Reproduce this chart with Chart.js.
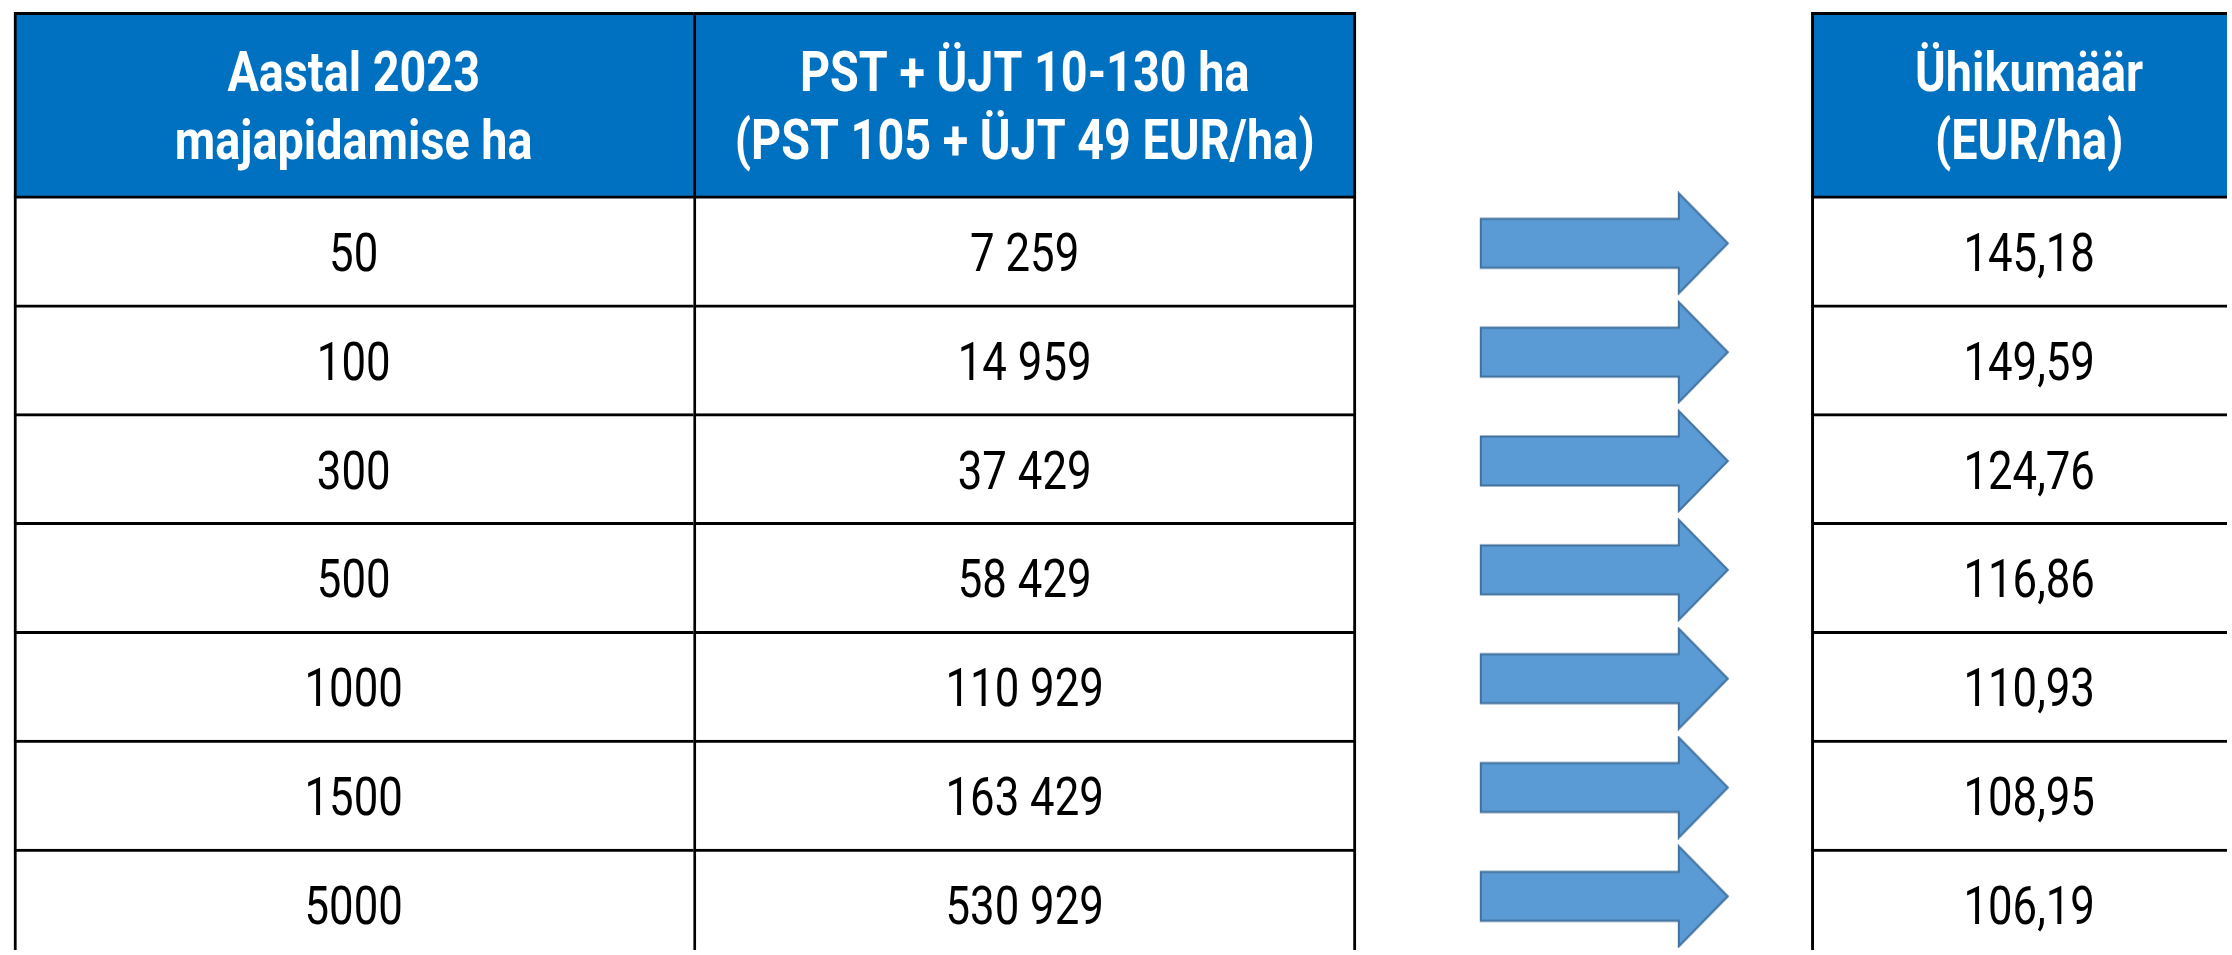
<!DOCTYPE html>
<html>
<head>
<meta charset="utf-8">
<script src="https://cdn.jsdelivr.net/npm/chart.js@4.4.1/dist/chart.umd.min.js"></script>
<style>
  html, body { margin: 0; padding: 0; background: #fff; }
  canvas { display: block; }
</style>
</head>
<body>
<canvas id="table" width="2232" height="955"></canvas>
<script>
// table contents
const farmSizes = [50, 100, 300, 500, 1000, 1500, 5000];
const payments = [7259, 14959, 37429, 58429, 110929, 163429, 530929];
const unitRates = [145.18, 149.59, 124.76, 116.86, 110.93, 108.95, 106.19];

const headers = [
    ["Aastal 2023", "majapidamise ha"],
    ["PST + ÜJT 10-130 ha", "(PST 105 + ÜJT 49 EUR/ha)"],
    ["Ühikumäär", "(EUR/ha)"]
];

// layout, px
const W = 2232, H = 955;
const HEAD_TOP = 8.5, HEAD_BOTTOM = 193.5, ROW_H = 110;
const HEAD_H = HEAD_BOTTOM - HEAD_TOP;
const COLS = [
    { x0: 9, x1: 691.5, right: 0 },
    { x0: 691.5, x1: 1357, right: 3 },
    { x0: 1814.5, x1: 2252, right: 3 }
];
const ARROW_X = 1607;
const ARROW_SHIFT = -0.07; // arrows sit a little above the row middle
const LINE = 3;
// no Roboto Condensed installed, so squeeze Roboto sideways
const HEAD_SQUEEZE = 0.85;
const BODY_SQUEEZE = 0.81;

// y axis counts in rows, row i is centred on value i
const yMin = -0.5 - HEAD_BOTTOM / ROW_H;
const yMax = yMin + H / ROW_H;
const headY = -0.5 - HEAD_H / 2 / ROW_H;

const fmtThousands = n => String(n).replace(/\B(?=(\d{3})+(?!\d))/g, " ");
const fmtRate = n => n.toFixed(2).replace(".", ",");

const cellTexts = [
    farmSizes.map(String),
    payments.map(fmtThousands),
    unitRates.map(fmtRate)
];

function makeArrow() {
    const c = document.createElement("canvas");
    c.width = 252;
    c.height = 104;
    const g = c.getContext("2d");
    g.translate(2, 2);
    g.beginPath();
    g.moveTo(0, 25.5);
    g.lineTo(198, 25.5);
    g.lineTo(198, 0);
    g.lineTo(247, 50);
    g.lineTo(198, 100);
    g.lineTo(198, 74.5);
    g.lineTo(0, 74.5);
    g.closePath();
    g.fillStyle = "#5b9bd5";
    g.fill();
    g.lineWidth = 2;
    g.strokeStyle = "#41719c";
    g.stroke();
    return c;
}

const columnDatasets = COLS.map(col => ({
    type: "bar",
    indexAxis: "y",
    data: farmSizes.map((_, i) => ({ x: [col.x0, col.x1], y: i })),
    backgroundColor: "#ffffff",
    borderColor: "#000000",
    borderWidth: { top: LINE, left: LINE, right: col.right, bottom: 0 },
    borderSkipped: false,
    barThickness: ROW_H,
    grouped: false,
    order: 2
}));

const headerDataset = {
    type: "bar",
    indexAxis: "y",
    data: COLS.map(col => ({ x: [col.x0, col.x1], y: headY })),
    backgroundColor: "#0070c0",
    borderColor: "#000000",
    borderWidth: ctx => ({ top: LINE, left: LINE, right: COLS[ctx.dataIndex].right, bottom: 0 }),
    borderSkipped: false,
    barThickness: HEAD_H,
    grouped: false,
    order: 2
};

const arrowDataset = {
    type: "scatter",
    data: farmSizes.map((_, i) => ({ x: ARROW_X, y: i + ARROW_SHIFT })),
    pointStyle: makeArrow(),
    pointRadius: 3,
    order: 1
};

function drawSqueezed(ctx, text, x, y, sx) {
    ctx.save();
    ctx.translate(x, y);
    ctx.scale(sx, 1);
    ctx.fillText(text, 0, 0);
    ctx.restore();
}

const cellTextPlugin = {
    id: "cellText",
    afterDatasetsDraw(chart) {
        const ctx = chart.ctx;
        ctx.save();
        ctx.textAlign = "center";
        ctx.textBaseline = "alphabetic";

        // header cells
        ctx.fillStyle = "#ffffff";
        ctx.font = "bold 55px Roboto";
        chart.getDatasetMeta(3).data.forEach((bar, c) => {
            const p = bar.getCenterPoint();
            drawSqueezed(ctx, headers[c][0], p.x, p.y - 14, HEAD_SQUEEZE);
            drawSqueezed(ctx, headers[c][1], p.x, p.y + 54, HEAD_SQUEEZE);
        });

        // body cells
        ctx.fillStyle = "#000000";
        ctx.font = "54px Roboto";
        for (let c = 0; c < COLS.length; c++) {
            chart.getDatasetMeta(c).data.forEach((bar, i) => {
                const p = bar.getCenterPoint();
                drawSqueezed(ctx, cellTexts[c][i], p.x, p.y + 20, BODY_SQUEEZE);
            });
        }
        ctx.restore();
    }
};

new Chart(document.getElementById("table"), {
    type: "bar",
    data: {
        datasets: [...columnDatasets, headerDataset, arrowDataset]
    },
    options: {
        responsive: false,
        animation: false,
        devicePixelRatio: 1,
        layout: { padding: 0 },
        plugins: {
            legend: { display: false },
            tooltip: { enabled: false }
        },
        scales: {
            x: { type: "linear", min: 0, max: W, display: false, offset: false },
            y: { type: "linear", min: yMin, max: yMax, reverse: true, display: false, offset: false }
        }
    },
    plugins: [cellTextPlugin]
});
</script>
</body>
</html>
